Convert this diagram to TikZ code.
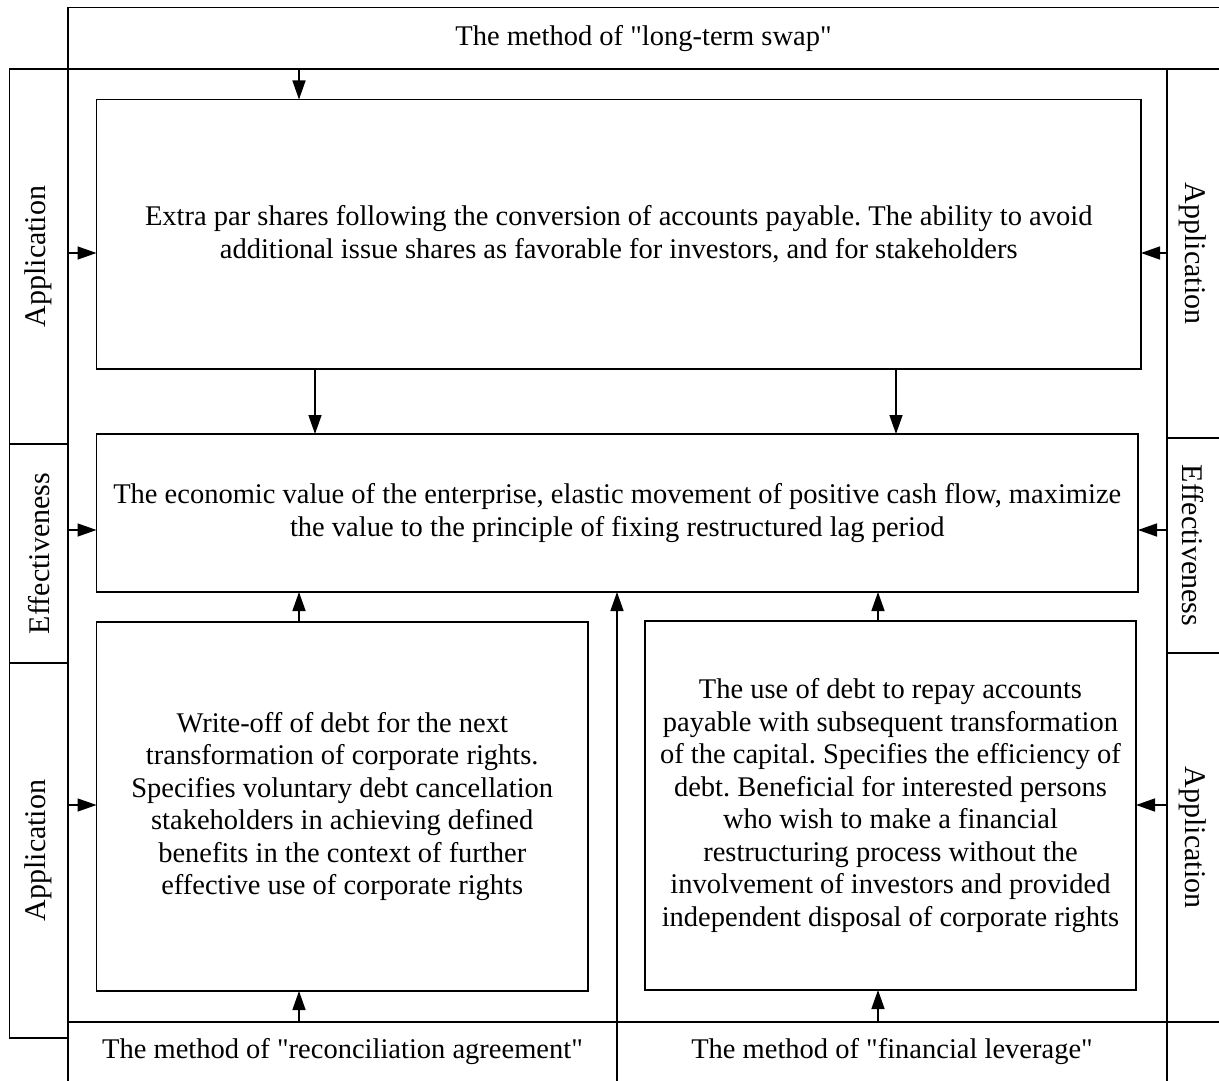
\documentclass[tikz,border=0pt]{standalone}
\usepackage{fontspec}
\setmainfont{Liberation Serif}[Ligatures=TeXOff]
\usetikzlibrary{arrows.meta}
\frenchspacing

\newcommand{\txtfont}{\fontsize{28.5}{32.5}\selectfont}
\newcommand{\sidefont}{\fontsize{30}{34}\selectfont}

\tikzset{
  blk/.style={draw, line width=1.4pt, inner sep=0pt, outer sep=0pt, align=center, font=\txtfont},
  cell/.style={inner sep=0pt, outer sep=0pt, align=center, font=\txtfont},
  sidecell/.style={inner sep=0pt, outer sep=0pt, font=\sidefont, minimum height=52pt},
}

\begin{document}
\begin{tikzpicture}[x=1pt, y=-1pt, >={Triangle[length=19pt,width=13pt]}, line width=1.4pt]
    \useasboundingbox (0,0) rectangle (1219,1081);

    % Methods
    \node[cell, minimum width=1151pt, minimum height=61.5pt] (swap) at (643.5,38.25) {The method of "long-term swap"};
    \node[cell, minimum width=549pt, minimum height=59pt] (recon) at (342.5,1051.5) {The method of "reconciliation agreement"};
    \node[cell, minimum width=550pt, minimum height=59pt] (lever) at (892,1051.5) {The method of "financial leverage"};

    % Blocks
    \node[blk, minimum width=1044.5pt, minimum height=269.5pt] (par) at (618.75,234.25)
        {Extra par shares following the conversion of accounts payable. The ability to avoid\\
         additional issue shares as favorable for investors, and for stakeholders};
    \node[blk, minimum width=1041.5pt, minimum height=158pt] (value) at (617.25,513)
        {The economic value of the enterprise, elastic movement of positive cash flow, maximize\\
         the value to the principle of fixing restructured lag period};
    \node[blk, minimum width=491.5pt, minimum height=369pt] (writeoff) at (342.25,806.5)
        {Write-off of debt for the next\\ transformation of corporate rights.\\
         Specifies voluntary debt cancellation\\ stakeholders in achieving defined\\
         benefits in the context of further\\ effective use of corporate rights};
    \node[blk, minimum width=491pt, minimum height=369pt] (usedebt) at (890.5,805.5)
        {The use of debt to repay accounts\\ payable with subsequent transformation\\
         of the capital. Specifies the efficiency of\\ debt. Beneficial for interested persons\\
         who wish to make a financial\\ restructuring process without the\\
         involvement of investors and provided\\ independent disposal of corporate rights};

    % Left column
    \node[sidecell, draw, rotate=90, minimum width=375pt, minimum height=58.5pt] (lapp1) at (38.75,256.5) {Application};
    \node[sidecell, draw, rotate=90, minimum width=219pt, minimum height=58.5pt] (leff) at (38.75,553.5) {Effectiveness};
    \node[sidecell, draw, rotate=90, minimum width=375pt, minimum height=58.5pt] (lapp2) at (38.75,850.5) {Application};

    % Right column
    \node[sidecell, rotate=-90, minimum width=369pt] (rapp1) at (1193,253.5) {Application};
    \node[sidecell, rotate=-90, minimum width=215pt] (reff) at (1193,545.5) {Effectiveness};
    \node[sidecell, rotate=-90, minimum width=369pt] (rapp2) at (1193,837.5) {Application};

    % Frame
    \draw (swap.north west) -- (swap.north east);
    \draw (swap.south west) -- (swap.south east);
    \draw (swap.north west) -- (recon.south west);
    \draw (rapp1.north west -| lever.east) -- (lever.south east);
    \draw (reff.south west) -- (reff.north west);
    \draw (reff.south east) -- (reff.north east);
    \draw (recon.north west) -- (lever.north east -| swap.east);

    % Arrows
    \coordinate (ax1) at (299,0);
    \coordinate (ax2) at (315,0);
    \coordinate (ax3) at (896,0);
    \coordinate (ax4) at (878,0);
    \coordinate (ay1) at (0,253);
    \coordinate (ay2) at (0,530);
    \coordinate (ay3) at (0,805);

    \draw[->] (swap.south -| ax1) -- (par.north -| ax1);
    \draw[->] (par.south -| ax2) -- (value.north -| ax2);
    \draw[->] (par.south -| ax3) -- (value.north -| ax3);
    \draw[->] (writeoff.north -| ax1) -- (value.south -| ax1);
    \draw[->] (usedebt.north -| ax4) -- (value.south -| ax4);
    \draw[->] (recon.north -| ax1) -- (writeoff.south -| ax1);
    \draw[->] (lever.north -| ax4) -- (usedebt.south -| ax4);
    \draw[->] (recon.south east) -- (value.south -| recon.east);

    \draw[->] (lapp1.south |- ay1) -- (par.west |- ay1);
    \draw[->] (leff.south |- ay2) -- (value.west |- ay2);
    \draw[->] (lapp2.south |- ay3) -- (writeoff.west |- ay3);
    \draw[->] (rapp1.south |- ay1) -- (par.east |- ay1);
    \draw[->] (reff.south |- ay2) -- (value.east |- ay2);
    \draw[->] (rapp2.south |- ay3) -- (usedebt.east |- ay3);
\end{tikzpicture}
\end{document}
